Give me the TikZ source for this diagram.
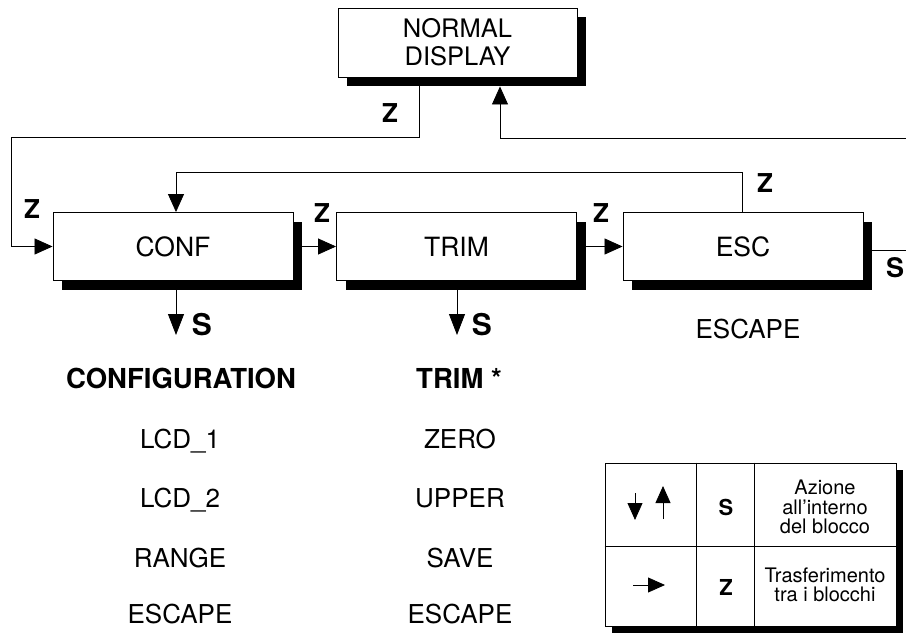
\documentclass[tikz,border=0pt]{standalone}
\usepackage{fontspec}
\setmainfont{TeX Gyre Heros}
\usetikzlibrary{arrows.meta,shadows,calc}
\begin{document}
\begin{tikzpicture}[x=1pt,y=-1pt,
  blk/.style={draw,line width=0.9pt,fill=white,minimum width=240pt,minimum height=68pt,inner sep=0pt,
    drop shadow={shadow xshift=9pt,shadow yshift=-9pt,opacity=1,fill=black}},
  ln/.style={line width=0.8pt},
  arr/.style={ln,-{Triangle[length=18pt,width=16pt]}},
  sarr/.style={ln,-{Triangle[length=21pt,width=16pt]}},
  larr/.style={ln,-{Triangle[length=17pt,width=15pt]}},
  txt/.style={inner sep=0pt,anchor=base,font=\fontsize{26}{28}\selectfont},
  txtb/.style={inner sep=0pt,anchor=base,font=\fontsize{27.5}{28}\selectfont\bfseries},
  zlab/.style={inner sep=0pt,anchor=base,font=\fontsize{26}{26}\selectfont\bfseries},
  slab/.style={inner sep=0pt,anchor=base,font=\fontsize{30}{30}\selectfont\bfseries},
  llab/.style={inner sep=0pt,anchor=base,font=\fontsize{22}{22}\selectfont\bfseries},
  ltxt/.style={inner sep=0pt,align=center,font=\fontsize{20}{19.5}\selectfont}
]
\useasboundingbox (0,0) rectangle (906,634);

% blocks
\node[blk,minimum width=239pt,minimum height=69pt,align=center,font=\fontsize{25.5}{28}\selectfont] (nd) at (457.5,42.5) {NORMAL\\DISPLAY};
\node[blk,font=\fontsize{26.5}{28}\selectfont] (conf) at (173,246.5) {CONF};
\node[blk,font=\fontsize{26.5}{28}\selectfont] (trim) at (456.5,246.5) {TRIM};
\node[blk,font=\fontsize{26.5}{28}\selectfont] (esc) at (743,246.5) {ESC};

% helper coordinates
\coordinate (zl1) at (419,137);
\coordinate (zl2) at (11,137);
\coordinate (ra) at (500,138);
\coordinate (rr) at (906,138);
\coordinate (ndb) at ([yshift=-9pt]nd.south);
\coordinate (il) at (742,172);
\coordinate (il2) at (176,172);
\coordinate (sout) at (906,250);
\coordinate (cs) at (176,335);
\coordinate (ts) at (457,335);

% connectors
\draw[arr] (ndb -| zl1) -- (zl1) -- (zl2) -- (zl2 |- conf.west) -- (conf.west);
\draw[arr] (rr) -- (ra) -- (ndb -| ra);
\draw[arr] (esc.north -| il) -- (il) -- (il2) -- (conf.north -| il2);
\draw[arr] ([xshift=9pt]conf.east) -- (trim.west);
\draw[arr] ([xshift=9pt]trim.east) -- (esc.west);
\draw[ln] ($(esc.east)+(9,3.5)$) -- (sout);
\draw[sarr] ($(conf.south)+(3,9)$) -- (cs);
\draw[sarr] ($(trim.south)+(0.5,9)$) -- (ts);

% Z / S labels
\node[zlab] (z1) at (390,122) {Z};
\node[zlab] (z2) at (32,218) {Z};
\node[zlab] (z3) at (322,222) {Z};
\node[zlab] (z4) at (601,222) {Z};
\node[zlab] (z5) at (765,192) {Z};
\node[zlab,font=\fontsize{27}{27}\selectfont\bfseries] (s3) at (895,277) {S};
\node[slab] (s1) at (202,335) {S};
\node[slab] (s2) at (482,335) {S};

% menu texts
\node[txtb] (c0) at (181,388) {CONFIGURATION};
\node[txt] (c1) at (180,448) {LCD\_1};
\node[txt] (c2) at (180,507) {LCD\_2};
\node[txt] (c3) at (180,567) {RANGE};
\node[txt] (c4) at (180,623) {ESCAPE};
\node[txtb] (t0) at (459,388) {TRIM *};
\node[txt] (t1) at (460,448) {ZERO};
\node[txt] (t2) at (460,507) {UPPER};
\node[txt] (t3) at (460,567) {SAVE};
\node[txt] (t4) at (460,623) {ESCAPE};
\node[txt] (e0) at (748,338) {ESCAPE};

% legend
\node[draw,line width=0.9pt,fill=white,minimum width=291pt,minimum height=163pt,inner sep=0pt,
  drop shadow={shadow xshift=7pt,shadow yshift=-7pt,opacity=1,fill=black}] (leg) at (750.5,544.5) {};
\coordinate (d1) at (696,0);
\coordinate (d2) at (754,0);
\coordinate (r1) at (0,546);
\draw[ln] (leg.north -| d1) -- (leg.south -| d1);
\draw[ln] (leg.north -| d2) -- (leg.south -| d2);
\draw[ln] (leg.west |- r1) -- (leg.east |- r1);
\coordinate (la1) at (635,493);
\coordinate (la2) at (635,520);
\coordinate (lb1) at (663,519);
\coordinate (lb2) at (663,486);
\coordinate (lc1) at (633,585);
\coordinate (lc2) at (665,585);
\draw[larr] (la1) -- (la2);
\draw[larr] (lb1) -- (lb2);
\draw[larr] (lc1) -- (lc2);
\node[llab] (ls) at (726,515) {S};
\node[llab] (lz) at (726,595) {Z};
\node[ltxt] (lt1) at (825,507) {Azione\\all'interno\\del blocco};
\node[ltxt] (lt2) at (825,585) {Trasferimento\\tra i blocchi};
\end{tikzpicture}
\end{document}
